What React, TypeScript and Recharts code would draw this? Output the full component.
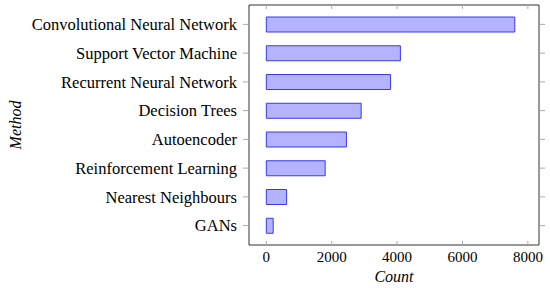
import React from 'react';
import { BarChart, Bar, XAxis, YAxis } from 'recharts';

// methods, top to bottom
const methods = [
  'Convolutional Neural Network',
  'Support Vector Machine',
  'Recurrent Neural Network',
  'Decision Trees',
  'Autoencoder',
  'Reinforcement Learning',
  'Nearest Neighbours',
  'GANs',
];
const counts = [7600, 4100, 3800, 2900, 2450, 1800, 620, 210];
const countTicks = [0, 2000, 4000, 6000, 8000];

const data = methods.map((name, i) => ({ name, count: counts[i] }));

const FONT = '"Liberation Serif", serif';
const FRAME = '#333333';
const TICK = '#aaaaaa';

const NoLabel = () => <g />;

const App: React.FC = () => {
  return (
    <div style={{ position: 'absolute', left: 0, top: 0, fontFamily: FONT }}>
      <BarChart
        width={550}
        height={288}
        data={data}
        layout="vertical"
        margin={{ top: 4, right: 10, bottom: 0, left: 0 }}
      >
        <XAxis
          type="number"
          dataKey="count"
          domain={[-530, 8340]}
          ticks={countTicks}
          height={43}
          tickSize={-4}
          tickMargin={10}
          axisLine={{ stroke: FRAME }}
          tickLine={{ stroke: TICK }}
          tick={{ fill: '#000', fontSize: 15, fontFamily: FONT }}
          label={{
            value: 'Count',
            position: 'insideBottom',
            offset: 6,
            style: { fontStyle: 'italic', fontSize: 16, fill: '#000', fontFamily: FONT },
          }}
        />
        <XAxis
          xAxisId="top"
          orientation="top"
          type="number"
          domain={[-530, 8340]}
          ticks={countTicks}
          height={1}
          tickSize={-4}
          tick={<NoLabel />}
          axisLine={{ stroke: FRAME }}
          tickLine={{ stroke: TICK }}
        />
        <YAxis
          type="category"
          dataKey="name"
          width={249}
          padding={{ top: 5, bottom: 5 }}
          tickSize={6}
          tickMargin={6}
          axisLine={{ stroke: FRAME }}
          tickLine={{ stroke: TICK }}
          tick={{ fill: '#000', fontSize: 16.5, fontFamily: FONT }}
          label={{
            value: 'Method',
            angle: -90,
            position: 'insideLeft',
            offset: 15,
            style: { textAnchor: 'middle', fontStyle: 'italic', fontSize: 16, fill: '#000', fontFamily: FONT },
          }}
        />
        <YAxis
          yAxisId="right"
          orientation="right"
          type="category"
          dataKey="name"
          width={1}
          padding={{ top: 5, bottom: 5 }}
          tickSize={6}
          tick={<NoLabel />}
          axisLine={{ stroke: FRAME }}
          tickLine={{ stroke: TICK }}
        />
        <Bar
          dataKey="count"
          barSize={15}
          fill="#b3b3ff"
          stroke="#3a3ae6"
          strokeWidth={1}
          isAnimationActive={false}
        />
        {/* invisible twin so the top/right frame axes get drawn */}
        <Bar
          dataKey="count"
          xAxisId="top"
          yAxisId="right"
          barSize={15}
          fill="none"
          stroke="none"
          legendType="none"
          isAnimationActive={false}
        />
      </BarChart>
    </div>
  );
};

export default App;
